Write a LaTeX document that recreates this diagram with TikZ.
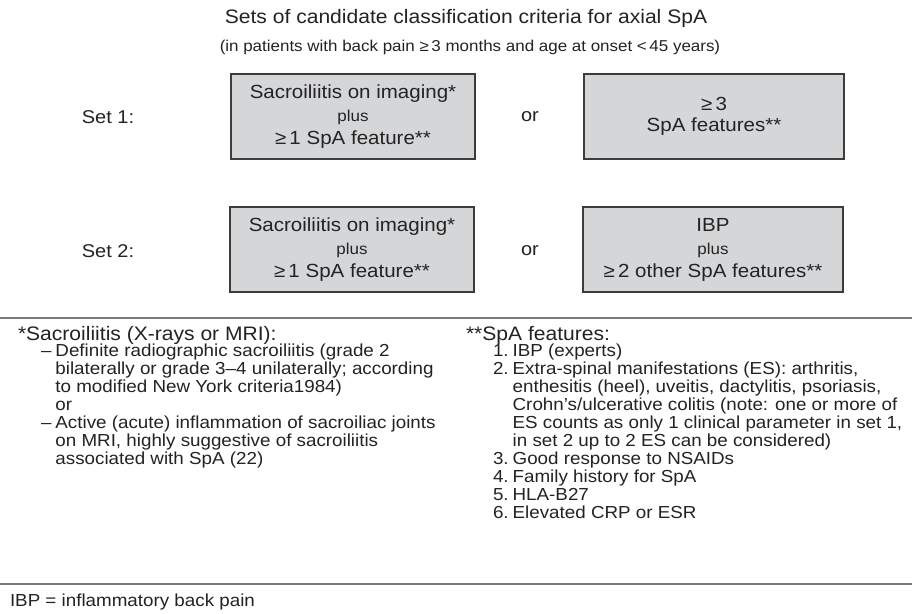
\documentclass[tikz,border=0pt]{standalone}
\usepackage{fontspec}
\setmainfont[FakeStretch=1.08]{Liberation Sans}
\definecolor{boxfill}{RGB}{213,214,216}
\definecolor{boxline}{RGB}{60,60,60}
\definecolor{txt}{RGB}{35,35,35}
\definecolor{sep}{RGB}{120,120,120}
\begin{document}
\begin{tikzpicture}[x=1pt,y=-1pt,
  every node/.style={text=txt, inner sep=0pt, outer sep=0pt},
  critbox/.style={draw=boxline, line width=1.1pt, fill=boxfill, minimum width=244pt, minimum height=85pt, anchor=north west, align=center, font=\fontsize{19}{23}\selectfont},
  critbox2/.style={critbox, minimum width=260pt},
  setlabel/.style={font=\fontsize{18.5}{22}\selectfont},
  orlabel/.style={font=\fontsize{18.5}{22}\selectfont},
  sepline/.style={draw=sep, line width=1.6pt},
  fnhead/.style={font=\fontsize{19.5}{22}\selectfont, anchor=base west},
  fnbody/.style={font=\fontsize{17.4}{18}\selectfont, anchor=north west, align=left}
]
\useasboundingbox (0,0) rectangle (912,613);
\fill[white] (0,0) rectangle (912,613);

% titles
\node[font=\fontsize{19.5}{24}\selectfont] (title) at (466,18) {Sets of candidate classification criteria for axial SpA};
\node[font=\fontsize{15.7}{18}\selectfont] (subtitle) at (470,47) {(in patients with back pain ≥\,3 months and age at onset <\,45 years)};

% set 1
\node[setlabel] (set1) at (108,117) {Set 1:};
\node[critbox] (b11) at (231,74) {Sacroiliitis on imaging*\\{\fontsize{15.7}{23}\selectfont plus}\\≥\,1 SpA feature**};
\node[orlabel] (or1) at (530,117) {or};
\node[critbox2, font=\fontsize{19}{21}\selectfont] (b12) at (584,74) {≥\,3\\SpA features**};

% set 2
\node[setlabel] (set2) at (108,251) {Set 2:};
\node[critbox] (b21) at (230,207) {Sacroiliitis on imaging*\\{\fontsize{15.7}{23}\selectfont plus}\\≥\,1 SpA feature**};
\node[orlabel] (or2) at (530,251) {or};
\node[critbox2] (b22) at (583,207) {IBP\\{\fontsize{15.7}{23}\selectfont plus}\\≥\,2 other SpA features**};

% separators
\draw[sepline] (0,318) -- (912,318);
\draw[sepline] (0,584) -- (912,584);

% left footnote
\node[fnhead] (lhead) at (18,340) {*Sacroiliitis (X-rays or MRI):};
\node[fnbody] (lbody) at (41,344) {%
\begin{tabular}{@{}l@{\hspace{4pt}}l@{}}
– & Definite radiographic sacroiliitis (grade 2\\
  & bilaterally or grade 3–4 unilaterally; according\\
  & to modified New York criteria1984)\\
  & or\\
– & Active (acute) inflammation of sacroiliac joints\\
  & on MRI, highly suggestive of sacroiliitis\\
  & associated with SpA (22)
\end{tabular}};

% right footnote
\node[fnhead] (rhead) at (466,340) {**SpA features:};
\node[fnbody] (rbody) at (493,344) {%
\begin{tabular}{@{}l@{\hspace{4pt}}l@{}}
1. & IBP (experts)\\
2. & Extra-spinal manifestations (ES): arthritis,\\
   & enthesitis (heel), uveitis, dactylitis, psoriasis,\\
   & Crohn’s/ulcerative colitis (note: one or more of\\
   & ES counts as only 1 clinical parameter in set 1,\\
   & in set 2 up to 2 ES can be considered)\\
3. & Good response to NSAIDs\\
4. & Family history for SpA\\
5. & HLA-B27\\
6. & Elevated CRP or ESR
\end{tabular}};

% footer
\node[font=\fontsize{17.4}{18}\selectfont, anchor=base west] (foot) at (10,606) {IBP = inflammatory back pain};
\end{tikzpicture}
\end{document}
